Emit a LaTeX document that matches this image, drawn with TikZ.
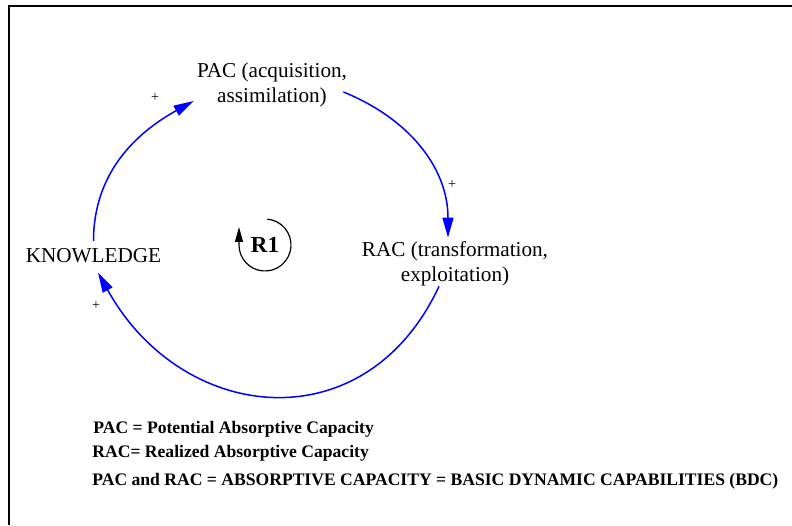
\documentclass[tikz,border=0pt]{standalone}
\usepackage{fontspec}
\setmainfont{Liberation Serif}
\usepackage{tikz}
\usetikzlibrary{arrows.meta}
\usetikzlibrary{positioning}
\definecolor{cl-link}{HTML}{0000FF}
\definecolor{cl-text}{HTML}{000000}

\begin{document}
\begin{tikzpicture}[x=0.5pt, y=0.5pt,
    var/.style={align=center, font=\fontsize{10.6}{12.25}\selectfont, inner sep=3.5pt},
    link/.style={draw=cl-link, line width=0.75pt, -{Triangle[length=10pt, width=5.5pt, fill=cl-link]}},
    pol/.style={font=\fontsize{7}{8}\selectfont, inner sep=0pt},
    note/.style={anchor=base west, font=\fontsize{8.8}{10}\selectfont\bfseries, inner sep=0pt}]
    \useasboundingbox (0,0) rectangle (792,525);

    % Frame
    \draw[cl-text, line width=1pt] (9,0) -- (9,519) -- (792,519);

    % Variables
    \node[var] (know) at (93.5,269.5) {KNOWLEDGE};
    \node[var] (pac) at (272,440) {PAC (acquisition,\\assimilation)};
    \node[var] (rac) at (455,261) {RAC (transformation,\\exploitation)};

    % Causal links
    \draw[link] (know.north) to[out=90, in=209] ([shift={(2pt,-8pt)}]pac.west);
    \draw[link] ([shift={(-5.5pt,-3.5pt)}]pac.east) to[out=-22, in=90] ([shift={(-3.5pt,-1.5pt)}]rac.north);
    \draw[link] ([shift={(-8pt,3.5pt)}]rac.south) to[out=-115, in=-61, looseness=1.3] ([shift={(2.25pt,-1.25pt)}]know.south);

    % Polarities
    \foreach \nm/\px/\py in {p1/155/427, p2/452/340, p3/96/219} {
        \node[pol] (\nm) at (\px,\py) {+};
    }

    % Loop marker
    \node[font=\fontsize{11.5}{13}\selectfont\bfseries] (r1) at (265,280) {R1};
    \draw[line width=0.6pt, -{Triangle[length=7.5pt, width=4pt]}] ([shift={(85:13pt)}]r1.center)
        arc[start angle=85, end angle=-180, radius=13pt] -- ++(0,18);

    % Definitions
    \node[note] (def1) at (93,92) {PAC = Potential Absorptive Capacity};
    \node[note] (def2) at (92,68) {RAC= Realized Absorptive Capacity};
    \node[note] (def3) at (92,40) {PAC and RAC = ABSORPTIVE CAPACITY = BASIC DYNAMIC CAPABILITIES (BDC)};
\end{tikzpicture}
\end{document}
